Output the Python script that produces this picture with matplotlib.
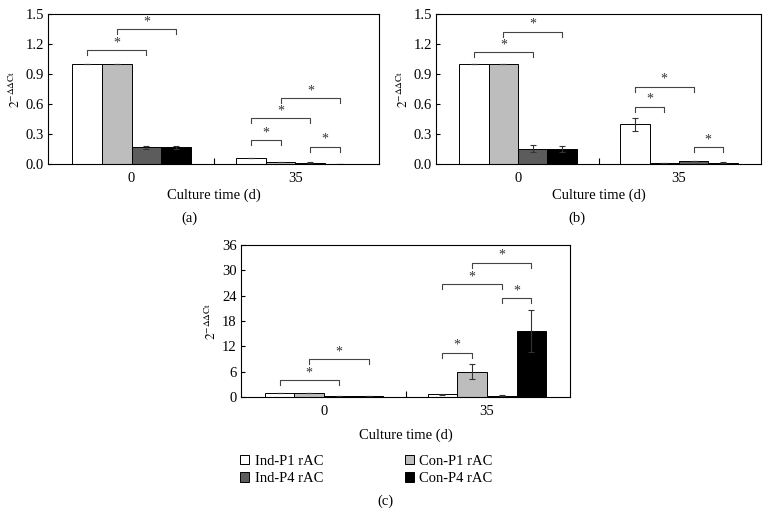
import matplotlib
matplotlib.use("Agg")
import matplotlib.pyplot as plt
import numpy as np

plt.rcParams['font.family'] = ['Liberation Serif', 'DejaVu Serif']
plt.rcParams['mathtext.fontset'] = 'stix'

# Data
groups = ['0', '35']
series = ['Ind-P1 rAC', 'Con-P1 rAC', 'Ind-P4 rAC', 'Con-P4 rAC']
colors = ['white', '#bdbdbd', '#5c5c5c', 'black']

a_vals = [[1.0, 0.06], [1.0, 0.02], [0.167, 0.015], [0.17, 0.004]]
a_errs = [[0, 0.004], [0, 0.003], [0.018, 0.004], [0.015, 0.001]]
b_vals = [[1.0, 0.40], [1.0, 0.01], [0.155, 0.03], [0.155, 0.015]]
b_errs = [[0, 0.065], [0, 0.002], [0.032, 0.003], [0.03, 0.003]]
c_vals = [[1.0, 0.6], [1.0, 6.0], [0.2, 0.3], [0.2, 15.7]]
c_errs = [[0, 0.15], [0, 1.7], [0, 0.1], [0.05, 5.0]]

# significance brackets: (group, bar_i, bar_j, height)
a_sig = [(0, 0, 2, 1.14), (0, 1, 3, 1.347), (1, 0, 1, 0.24),
         (1, 0, 2, 0.457), (1, 1, 3, 0.657), (1, 2, 3, 0.173)]
b_sig = [(0, 0, 2, 1.117), (0, 1, 3, 1.323), (1, 0, 1, 0.573),
         (1, 0, 2, 0.773), (1, 2, 3, 0.167)]
c_sig = [(0, 0, 2, 4.0), (0, 1, 3, 8.9), (1, 0, 1, 10.5),
         (1, 0, 2, 26.8), (1, 1, 3, 31.8), (1, 2, 3, 23.4)]

W, H = 771, 519
BAR_W = 0.182


def px_axes(fig, left, right, top, bottom):
    return fig.add_axes([left / W, 1 - bottom / H, (right - left) / W, (bottom - top) / H])


def bar_x(g, i):
    return g + (i - 1.5) * BAR_W


def draw_panel(ax, vals, errs, sig, ymax, step, xpad):
    x = np.arange(len(groups))
    handles = []
    for i, name in enumerate(series):
        h = ax.bar(x + (i - 1.5) * BAR_W, vals[i], BAR_W, color=colors[i],
                   edgecolor='black', linewidth=0.7, label=name,
                   yerr=errs[i], capsize=2.2,
                   error_kw=dict(elinewidth=0.8, capthick=0.8, ecolor='#333333'))
        handles.append(h)
    ax.set_xlim(-0.51, 1.51)
    ax.set_ylim(0, ymax)
    ticks = np.arange(0, ymax + step / 2, step)
    ax.set_yticks(ticks)
    if step < 1:
        ax.set_yticklabels(['%.1f' % t for t in ticks])
    ax.set_xticks(x)
    ax.set_xticklabels(groups)
    ax.set_xticks([0.5], minor=True)
    ax.tick_params(axis='x', which='major', length=0, pad=6, labelsize=10.5)
    ax.tick_params(axis='x', which='minor', direction='in', length=4, width=0.8)
    ax.tick_params(axis='y', direction='in', length=3, width=0.8, labelsize=10.5, pad=3)
    for s in ax.spines.values():
        s.set_linewidth(0.8)
    ax.set_xlabel('Culture time (d)', fontsize=10.5, labelpad=xpad)
    ax.set_ylabel(r'$2^{-\Delta\Delta\mathrm{Ct}}$', fontsize=9.5, labelpad=2)
    drop = ymax * 0.033
    for g, i, j, yb in sig:
        x1, x2 = bar_x(g, i), bar_x(g, j)
        ax.plot([x1, x1, x2, x2], [yb - drop, yb, yb, yb - drop],
                color='#444444', linewidth=0.8)
        ax.text((x1 + x2) / 2, yb + ymax * 0.005, '*', ha='center', va='bottom',
                fontsize=10, color='#333333')
    return handles


fig = plt.figure(figsize=(W / 100, H / 100), dpi=100)

ax_a = px_axes(fig, 48, 379, 14, 164)
draw_panel(ax_a, a_vals, a_errs, a_sig, 1.5, 0.3, 2)
ax_b = px_axes(fig, 436, 761, 14, 164)
draw_panel(ax_b, b_vals, b_errs, b_sig, 1.5, 0.3, 2)
ax_c = px_axes(fig, 241, 570, 245, 397)
handles = draw_panel(ax_c, c_vals, c_errs, c_sig, 36, 6, 7)

fig.text(189 / W, 1 - 218 / H, '(a)', ha='center', va='center', fontsize=10.5)
fig.text(577 / W, 1 - 218 / H, '(b)', ha='center', va='center', fontsize=10.5)
fig.text(385 / W, 1 - 501 / H, '(c)', ha='center', va='center', fontsize=10.5)

order = [0, 2, 1, 3]
leg = fig.legend([handles[k] for k in order], [series[k] for k in order],
                 ncol=2, loc='center left', bbox_to_anchor=(227 / W, 1 - 470 / H),
                 frameon=False, fontsize=10.5, handlelength=0.6, handleheight=0.6,
                 handletextpad=0.4, columnspacing=5.6, labelspacing=0.3)

fig.savefig('out.png', dpi=100)
